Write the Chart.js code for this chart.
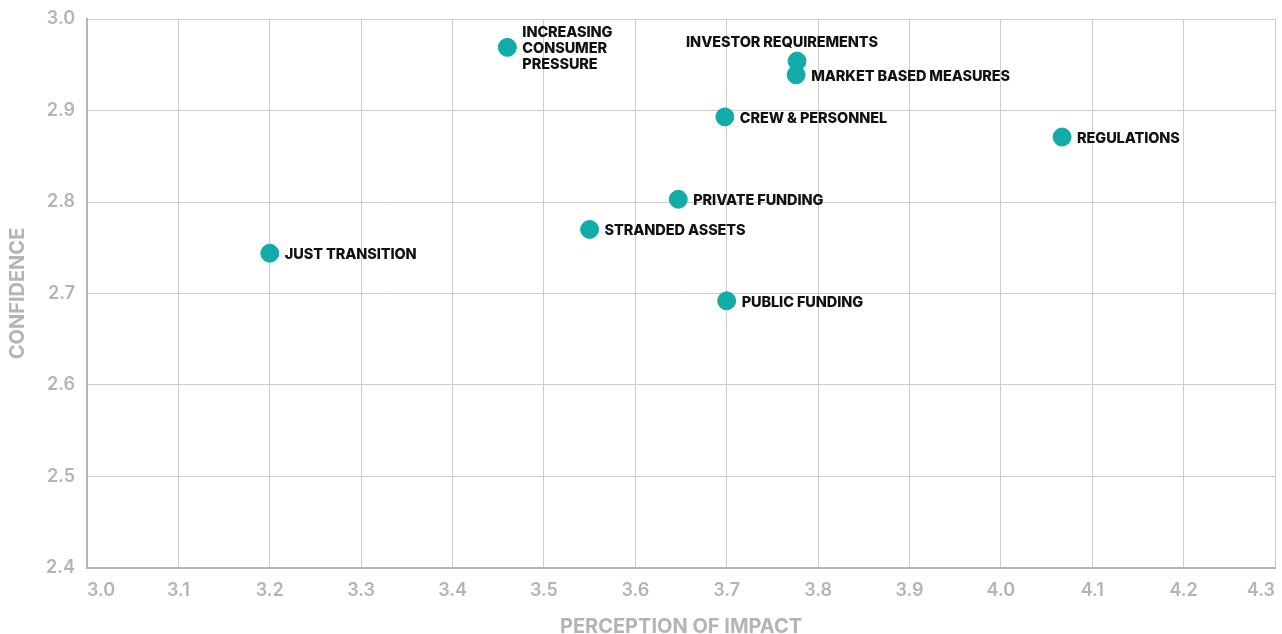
<!DOCTYPE html>
<html>
<head>
<meta charset="utf-8">
<script src="https://cdn.jsdelivr.net/npm/chart.js@4/dist/chart.umd.min.js"></script>
<style>
  html, body { margin:0; padding:0; background:#fff; }
  #wrap { width:1282px; height:634px; position:relative; }
</style>
</head>
<body>
<div id="wrap"><canvas id="scatter"></canvas></div>
<script>
// factors, impact (x) vs confidence (y)
var factorNames = [
  ["INCREASING", "CONSUMER", "PRESSURE"],
  ["INVESTOR REQUIREMENTS"],
  ["MARKET BASED MEASURES"],
  ["CREW & PERSONNEL"],
  ["REGULATIONS"],
  ["PRIVATE FUNDING"],
  ["STRANDED ASSETS"],
  ["JUST TRANSITION"],
  ["PUBLIC FUNDING"]
];
var impactValues     = [3.46, 3.777, 3.776, 3.698, 4.067, 3.647, 3.55, 3.20, 3.70];
var confidenceValues = [2.969, 2.954, 2.939, 2.893, 2.871, 2.803, 2.770, 2.744, 2.692];
var labelSide        = ["right", "above", "right", "right", "right", "right", "right", "right", "right"];

var xTicks = [3.0, 3.1, 3.2, 3.3, 3.4, 3.5, 3.6, 3.7, 3.8, 3.9, 4.0, 4.1, 4.2, 4.3];
var yTicks = [2.4, 2.5, 2.6, 2.7, 2.8, 2.9, 3.0];

var pts = [];
for (var i = 0; i < impactValues.length; i++) {
  pts.push({x: impactValues[i], y: confidenceValues[i]});
}

var TEAL = "#12aba7";
var GREY = "#b4b4b4";

// writes the factor names next to each dot
var pointLabelPlugin = {
  id: 'pointLabels',
  afterDatasetsDraw: function(chart) {
    var ctx = chart.ctx;
    var meta = chart.getDatasetMeta(0);
    ctx.save();
    ctx.font = "800 14.5px Inter, 'DejaVu Sans', sans-serif";
    ctx.letterSpacing = "-0.1px";
    ctx.fillStyle = "#111";
    ctx.textBaseline = "middle";
    for (var i = 0; i < meta.data.length; i++) {
      var p = meta.data[i];
      var lines = factorNames[i];
      var lh = 16;
      if (labelSide[i] == "above") {
        ctx.textAlign = "center";
        ctx.fillText(lines[0], p.x - 15, p.y - 18);
      } else {
        ctx.textAlign = "left";
        var y0 = p.y + 1.5 - (lines.length - 1) * lh / 2;
        for (var j = 0; j < lines.length; j++) {
          ctx.fillText(lines[j], p.x + 15, y0 + j * lh);
        }
      }
    }
    ctx.restore();
  }
};

var ctx = document.getElementById("scatter").getContext("2d");
var chart = new Chart(ctx, {
  type: 'scatter',
  data: {
    datasets: [{
      data: pts,
      backgroundColor: TEAL,
      borderColor: TEAL,
      pointRadius: 9,
      pointHoverRadius: 9
    }]
  },
  options: {
    responsive: true,
    maintainAspectRatio: false,
    animation: false,
    layout: { padding: { top: 19, right: 7, left: 0, bottom: 0 } },
    plugins: { legend: { display: false }, tooltip: { enabled: false } },
    scales: {
      x: {
        type: 'linear',
        min: 3.0, max: 4.3,
        afterBuildTicks: function(s) { s.ticks = xTicks.map(function(v){ return {value: v}; }); },
        afterFit: function(s) { s.height = 66; s.paddingLeft = 0; s.paddingRight = 0; },
        border: { color: GREY, width: 2 },
        grid: { color: "#cccccc", lineWidth: 1, drawTicks: false },
        ticks: {
          align: 'inner',
          padding: 12,
          color: GREY,
          font: { family: "Inter, 'DejaVu Sans', sans-serif", size: 18, weight: '600' },
          callback: function(v) { return v.toFixed(1); }
        },
        title: {
          display: true,
          text: "PERCEPTION OF IMPACT",
          color: GREY,
          padding: 0,
          font: { family: "Inter, 'DejaVu Sans', sans-serif", size: 20, weight: 'bold', lineHeight: 0.7 }
        }
      },
      y: {
        type: 'linear',
        min: 2.4, max: 3.0,
        afterBuildTicks: function(s) { s.ticks = yTicks.map(function(v){ return {value: v}; }); },
        afterFit: function(s) { s.width = 87; s.paddingTop = 0; s.paddingBottom = 0; },
        border: { color: GREY, width: 2 },
        grid: { color: "#cccccc", lineWidth: 1, drawTicks: false },
        ticks: {
          padding: 12,
          color: GREY,
          font: { family: "Inter, 'DejaVu Sans', sans-serif", size: 18, weight: '600' },
          callback: function(v) { return v.toFixed(1); }
        },
        title: {
          display: true,
          text: "CONFIDENCE",
          color: GREY,
          padding: { top: 6, bottom: 0 },
          font: { family: "Inter, 'DejaVu Sans', sans-serif", size: 20, weight: 'bold' }
        }
      }
    }
  },
  plugins: [pointLabelPlugin]
});
// big dots make chart.js reserve extra room on the right, don't want that
chart.getDatasetMeta(0).controller.getMaxOverflow = function() { return 0; };
chart.update();
</script>
</body>
</html>
